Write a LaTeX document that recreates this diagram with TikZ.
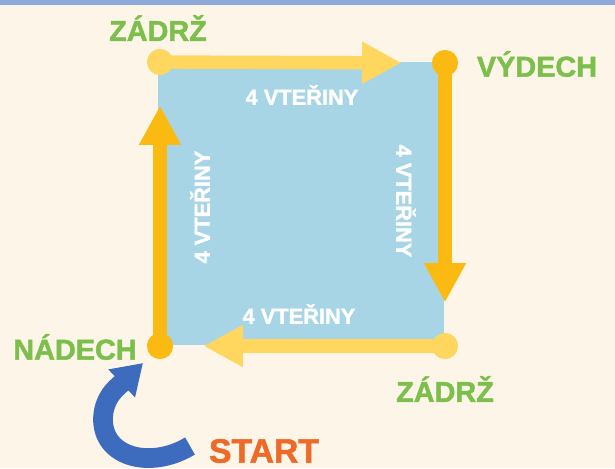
\documentclass[tikz,border=0pt]{standalone}
\usepackage{fontspec}
\setmainfont{Liberation Sans}[BoldFeatures={FakeBold=1.6}]
\usepackage{tikz}
\usetikzlibrary{positioning, arrows.meta}

\definecolor{cream}{HTML}{FDF6E8}
\definecolor{band}{HTML}{8EAADB}
\definecolor{boxblue}{HTML}{A8D5E5}
\definecolor{lightyel}{HTML}{FFD75E}
\definecolor{deepyel}{HTML}{FBBA12}
\definecolor{leaf}{HTML}{7CBF4C}
\definecolor{startred}{HTML}{EE6A28}
\definecolor{curlblue}{HTML}{3D6BBE}

\begin{document}
\begin{tikzpicture}[
    x=0.025cm, y=-0.025cm,
    dot/.style={circle, inner sep=0pt, minimum size=18.4pt},
    phase/.style={line width=9.5pt, shorten >=31pt, -{Triangle[length=28pt, width=28pt]}},
    lbl/.style={text=leaf, font=\fontsize{20.5}{24}\selectfont\bfseries},
    secs/.style={text=white, font=\fontsize{15.5}{18}\selectfont\bfseries},
    curl/.style={curlblue, line width=14pt, -{Triangle[length=21pt, width=26pt]}},
]
\useasboundingbox (0,0) rectangle (615,468);
\fill[cream] (0,0) rectangle (615,468);
\fill[band] (0,0) rectangle (615,5);
\fill[boxblue] (158,62) rectangle (444,345);

\node[dot, fill=deepyel] (inhale) at (160,346) {};
\node[dot, fill=lightyel] (hold1) at (160,62) {};
\node[dot, fill=deepyel] (exhale) at (445,63) {};
\node[dot, fill=lightyel] (hold2) at (445,346) {};

\draw[phase, lightyel] (hold1.center) -- (exhale.center);
\draw[phase, deepyel] (exhale.center) -- (hold2.center);
\draw[phase, lightyel] (hold2.center) -- (inhale.center);
\draw[phase, deepyel] (inhale.center) -- (hold1.center);

% dots again on top of the shafts
\fill[deepyel] (inhale) circle (9.2pt);
\fill[lightyel] (hold1) circle (9.2pt);
\fill[deepyel] (exhale) circle (9.2pt);
\fill[lightyel] (hold2) circle (9.2pt);

\node[secs] (t1) at (302,95) {4 VTEŘINY};
\node[secs, rotate=-90] (t2) at (406,201) {4 VTEŘINY};
\node[secs] (t3) at (299,314) {4 VTEŘINY};
\node[secs, rotate=90] (t4) at (200,207) {4 VTEŘINY};

\node[lbl] (l1) at (158,28) {ZÁDRŽ};
\node[lbl] (l2) at (537,64) {VÝDECH};
\node[lbl] (l3) at (445,389) {ZÁDRŽ};
\node[lbl] (l4) at (75,347) {NÁDECH};

\node[text=startred, font=\fontsize{24}{28}\selectfont\bfseries] (start) at (264,451) {START};

\coordinate (tail) at (190,446);
\coordinate (tip) at (143,363);
\draw[curl] (tail) .. controls (150,470) and (102,457) .. (103,418)
    .. controls (104,395) and (120,385) .. (tip);
\end{tikzpicture}
\end{document}
